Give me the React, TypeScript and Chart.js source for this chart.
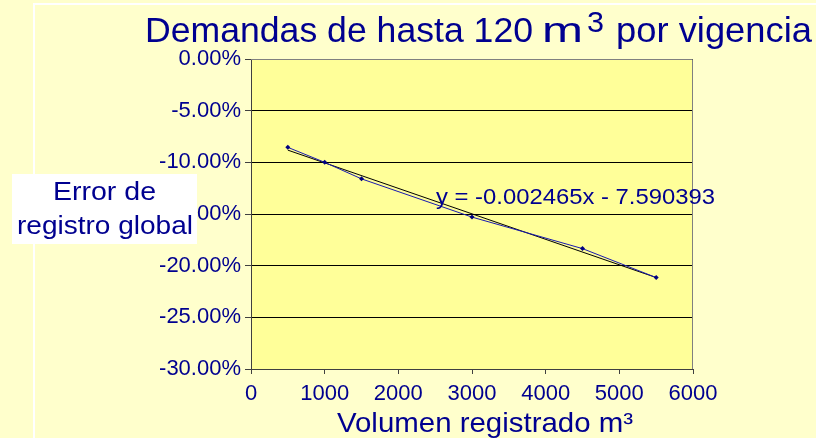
import React, { useEffect, useRef } from "react";
import { Chart, registerables } from "chart.js";

Chart.register(...registerables);

const volumes = [500, 1000, 1500, 3000, 4500, 5500];
const errors = [-8.55, -10.0, -11.6, -15.3, -18.35, -21.15];
const trendX = [500, 5500];
const trendY = [-8.82, -21.15];

const titleParts = ["Demandas de hasta 120", "m", "3", "por vigencia"];
const yTitleLines = ["Error de", "registro global"];
const xTitle = "Volumen registrado m³";
const equation = "y = -0.002465x - 7.590393";

const NAVY = "#000090";
const FONT = '"Liberation Sans", Arial, sans-serif';

function fitText(ctx: CanvasRenderingContext2D, text: string, x0: number, x1: number, y: number, size: number, color = NAVY) {
  ctx.save();
  ctx.font = `${size}px ${FONT}`;
  ctx.fillStyle = color;
  ctx.textAlign = "left";
  ctx.textBaseline = "alphabetic";
  const w = ctx.measureText(text).width;
  const sx = (x1 - x0) / w;
  ctx.translate(x0, y);
  ctx.scale(sx, 1);
  ctx.fillText(text, 0, 0);
  ctx.restore();
}

const decor = {
  id: "decor",
  beforeDraw(chart: any) {
    const { ctx, chartArea: a, width, height } = chart;
    ctx.save();
    ctx.fillStyle = "#FFFFCC";
    ctx.fillRect(0, 0, width, height);
    ctx.strokeStyle = "#FFFFFF";
    ctx.lineWidth = 2;
    ctx.beginPath();
    ctx.moveTo(34, height);
    ctx.lineTo(34, 4);
    ctx.lineTo(width, 4);
    ctx.stroke();
    ctx.fillStyle = "#FFFF99";
    ctx.fillRect(a.left, a.top, a.right - a.left, a.bottom - a.top);
    ctx.restore();
  },
  afterDraw(chart: any) {
    const { ctx, chartArea: a } = chart;
    ctx.save();
    ctx.strokeStyle = "#808080";
    ctx.lineWidth = 1;
    ctx.beginPath();
    ctx.moveTo(a.left, a.top + 0.5);
    ctx.lineTo(a.right - 0.5, a.top + 0.5);
    ctx.lineTo(a.right - 0.5, a.bottom);
    ctx.stroke();
    ctx.restore();

    // title
    fitText(ctx, titleParts[0], 145, 533, 42, 35);
    fitText(ctx, titleParts[1], 542, 583, 42, 35);
    fitText(ctx, titleParts[2], 587, 604, 32, 29);
    fitText(ctx, titleParts[3], 616, 812, 42, 35);

    // y title box
    ctx.save();
    ctx.fillStyle = "#FFFFFF";
    ctx.fillRect(12, 174, 185, 70);
    ctx.restore();
    fitText(ctx, yTitleLines[0], 53, 156, 200, 25);
    fitText(ctx, yTitleLines[1], 17, 193, 234, 25);

    // equation
    fitText(ctx, equation, 436, 715, 204, 22);

    // x title
    fitText(ctx, xTitle, 337, 633, 432, 28);
  },
};

export default function App() {
  const ref = useRef<HTMLCanvasElement | null>(null);
  useEffect(() => {
    if (!ref.current) return;
    const chart = new Chart(ref.current, {
      type: "scatter",
      data: {
        datasets: [
          {
            label: "datos",
            data: volumes.map((v, i) => ({ x: v, y: errors[i] })),
            showLine: true,
            borderColor: "#1a1ab0",
            borderWidth: 1,
            pointStyle: "rectRot",
            pointRadius: 2.5,
            pointBackgroundColor: "#000080",
            pointBorderColor: "#000080",
            pointBorderWidth: 0,
          },
          {
            label: "tendencia",
            data: trendX.map((v, i) => ({ x: v, y: trendY[i] })),
            showLine: true,
            borderColor: "#000000",
            borderWidth: 1,
            pointRadius: 0,
          },
        ],
      },
      options: {
        animation: false,
        responsive: false,
        maintainAspectRatio: false,
        layout: { padding: { left: 0, top: 59, right: 123, bottom: 0 } },
        plugins: { legend: { display: false }, tooltip: { enabled: false }, title: { display: false } },
        scales: {
          x: {
            type: "linear",
            min: 0,
            max: 6000,
            ticks: {
              stepSize: 1000,
              color: NAVY,
              font: { family: FONT, size: 22 },
              padding: 7,
              maxRotation: 0,
              callback: (v: any) => String(v),
            },
            grid: { drawOnChartArea: false, drawTicks: true, tickLength: 5, color: "#404040" },
            border: { color: "#404040", width: 1 },
            afterFit: (s: any) => { s.height = 69; },
          },
          y: {
            type: "linear",
            min: -30,
            max: 0,
            ticks: {
              stepSize: 5,
              color: NAVY,
              font: { family: FONT, size: 22 },
              padding: 4,
              callback: (v: any) => (Math.abs(v) < 1e-9 ? "0.00%" : Number(v).toFixed(2) + "%"),
            },
            grid: { color: "#000000", tickColor: "#404040", tickLength: 6, lineWidth: 1 },
            border: { color: "#404040", width: 1 },
            afterFit: (s: any) => { s.width = 251; },
          },
        },
      },
      plugins: [decor],
    });
    return () => chart.destroy();
  }, []);
  return (
    <div style={{ position: "fixed", left: 0, top: 0, width: 816, height: 438 }}>
      <canvas ref={ref} width={816} height={438} style={{ width: 816, height: 438, display: "block" }} />
    </div>
  );
}
